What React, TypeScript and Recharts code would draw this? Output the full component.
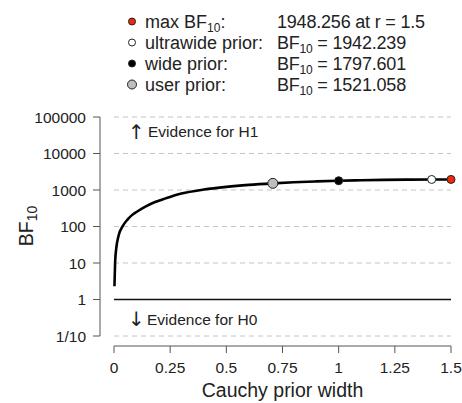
import React from 'react';
import {
  ComposedChart,
  Line,
  XAxis,
  YAxis,
  CartesianGrid,
  ReferenceLine,
  ReferenceDot,
  Customized,
} from 'recharts';

// prior width r and BF10
const priorWidths = [
  0.002, 0.005, 0.01, 0.02, 0.04, 0.06, 0.08, 0.1, 0.14, 0.18, 0.23, 0.3, 0.4, 0.5, 0.6, 0.707,
  0.8, 0.9, 1.0, 1.1, 1.2, 1.3, 1.414, 1.5,
];
const bf10Values = [
  2.3, 10.5, 25, 55, 105, 155, 205, 250, 350, 460, 590, 800, 1030, 1220, 1380, 1521.058, 1630,
  1720, 1797.601, 1855, 1898, 1925, 1942.239, 1948.256,
];

const xTicks = [0, 0.25, 0.5, 0.75, 1, 1.25, 1.5];
const xTickLabels = ['0', '0.25', '0.5', '0.75', '1', '1.25', '1.5'];
const yTicks = [0.1, 1, 10, 100, 1000, 10000, 100000];
const yTickLabels = ['1/10', '1', '10', '100', '1000', '10000', '100000'];

// highlighted priors: user, wide, ultrawide, max
const markerNames = ['user', 'wide', 'ultrawide', 'max'];
const markerR = [0.707, 1, 1.414, 1.5];
const markerBF = [1521.058, 1797.601, 1942.239, 1948.256];

const data = priorWidths.map((r, i) => ({ r, bf: bf10Values[i] }));

const FONT = '"Liberation Sans", Arial, Helvetica, sans-serif';
const TEXT = '#222';
const AXIS = '#555';

const markerStyle: Record<string, { fill: string; r: number }> = {
  user: { fill: '#bdbdbd', r: 5 },
  wide: { fill: '#000000', r: 4 },
  ultrawide: { fill: '#ffffff', r: 4 },
  max: { fill: '#ee2a0e', r: 4 },
};

const XTick = (props: any) => {
  const { x, y, payload, index } = props;
  return (
    <g>
      <line x1={x} x2={x} y1={y + 10} y2={y + 17} stroke={AXIS} strokeWidth={1} />
      <text x={x} y={y + 37} textAnchor="middle" fontSize={15.5} fontFamily={FONT} fill={TEXT}>
        {xTickLabels[index] ?? payload.value}
      </text>
    </g>
  );
};

const YTick = (props: any) => {
  const { x, y, payload, index } = props;
  return (
    <g>
      <line x1={x - 14} x2={x - 21} y1={y} y2={y} stroke={AXIS} strokeWidth={1} />
      <text x={x - 28} y={y + 5.5} textAnchor="end" fontSize={15.5} fontFamily={FONT} fill={TEXT}>
        {yTickLabels[index] ?? payload.value}
      </text>
    </g>
  );
};

const Sub = ({ children, size = 12, drop = 3.5 }: { children: React.ReactNode; size?: number; drop?: number }) => (
  <tspan fontSize={size} dy={drop}>
    {children}
  </tspan>
);

const Header = () => {
  const rows = [
    { key: 'max', label: <>max BF<Sub>10</Sub><tspan dy={-3.5}>:</tspan></>, value: <>1948.256 at r = 1.5</> },
    { key: 'ultrawide', label: <>ultrawide prior:</>, value: <>BF<Sub>10</Sub><tspan dy={-3.5}> = 1942.239</tspan></> },
    { key: 'wide', label: <>wide prior:</>, value: <>BF<Sub>10</Sub><tspan dy={-3.5}> = 1797.601</tspan></> },
    { key: 'user', label: <>user prior:</>, value: <>BF<Sub>10</Sub><tspan dy={-3.5}> = 1521.058</tspan></> },
  ];
  return (
    <g fontFamily={FONT} fill={TEXT}>
      {rows.map((row, i) => {
        const cy = 21.5 + i * 21;
        const st = markerStyle[row.key];
        return (
          <g key={row.key}>
            <circle cx={132} cy={cy} r={st.r - 0.5} fill={st.fill} stroke="#222" strokeWidth={1} />
            <text x={145} y={cy + 6.5} fontSize={18}>
              {row.label}
            </text>
            <text x={277} y={cy + 6.5} fontSize={18} letterSpacing={-0.2}>
              {row.value}
            </text>
          </g>
        );
      })}
      <text x={128} y={139} fontSize={20} fontFamily='"DejaVu Sans", sans-serif'>
        ↑
      </text>
      <text x={148} y={137} fontSize={15.5}>
        Evidence for H1
      </text>
      <text x={128} y={326} fontSize={20} fontFamily='"DejaVu Sans", sans-serif'>
        ↓
      </text>
      <text x={147} y={324.5} fontSize={15.5}>
        Evidence for H0
      </text>
      <text x={282.5} y={397} fontSize={19.5} textAnchor="middle">
        Cauchy prior width
      </text>
      <text transform="translate(33, 226) rotate(-90)" fontSize={19.5} textAnchor="middle">
        BF<Sub size={14} drop={4}>10</Sub>
      </text>
    </g>
  );
};

export default function App() {
  return (
    <div style={{ position: 'absolute', left: 0, top: 0, width: 462, height: 403, background: '#fff' }}>
      <ComposedChart
        width={462}
        height={403}
        data={data}
        margin={{ top: 117, right: 11, bottom: 0, left: 0 }}
      >
        <CartesianGrid vertical={false} stroke="#c4c4c4" strokeDasharray="5 4" />
        <XAxis
          dataKey="r"
          type="number"
          domain={[0, 1.5]}
          ticks={xTicks}
          height={67}
          tickSize={0}
          tickMargin={0}
          tickLine={false}
          axisLine={{ stroke: AXIS, strokeWidth: 1, transform: 'translate(0, 10)' } as any}
          tick={XTick}
          interval={0}
        />
        <YAxis
          type="number"
          scale="log"
          domain={[0.1, 100000]}
          ticks={yTicks}
          width={114}
          tickSize={0}
          tickMargin={0}
          tickLine={false}
          axisLine={{ stroke: AXIS, strokeWidth: 1, transform: 'translate(-14, 0)' } as any}
          tick={YTick}
          interval={0}
          allowDataOverflow
        />
        <ReferenceLine y={1} stroke="#111" strokeWidth={1.6} />
        <Line
          dataKey="bf"
          type="monotone"
          stroke="#000"
          strokeWidth={2.6}
          dot={false}
          activeDot={false}
          isAnimationActive={false}
        />
        {markerNames.map((name, i) => (
          <ReferenceDot
            key={name}
            x={markerR[i]}
            y={markerBF[i]}
            r={markerStyle[name].r}
            fill={markerStyle[name].fill}
            stroke="#222"
            strokeWidth={1}
          />
        ))}
        <Customized component={Header} />
      </ComposedChart>
    </div>
  );
}
